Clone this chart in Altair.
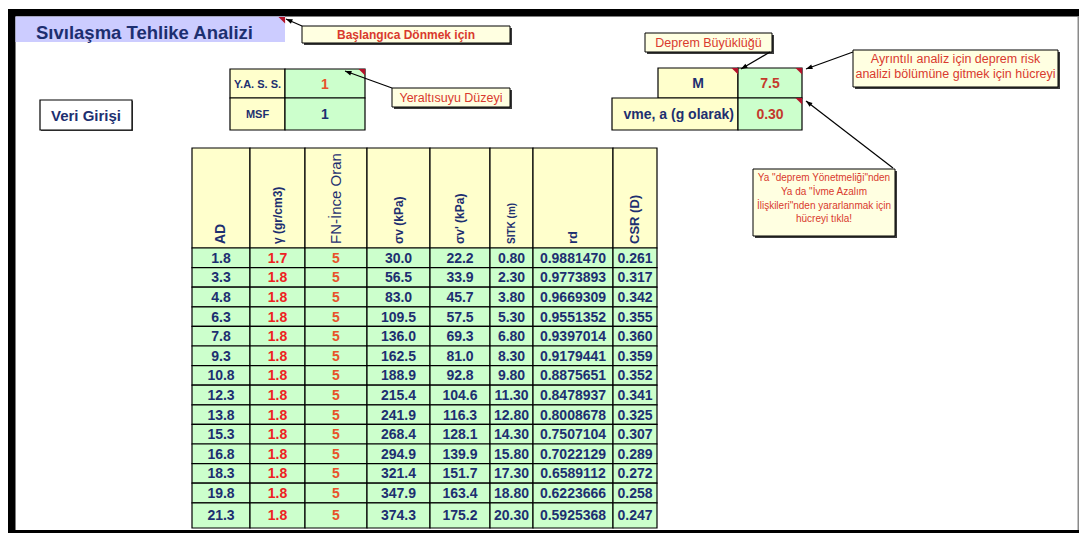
import math
import altair as alt
import pandas as pd

# ---------------- data ----------------
TITLE = "Sıvılaşma Tehlike Analizi"
ENTRY_LABEL = "Veri Girişi"
NOTE_HOME = ["Başlangıca Dönmek için"]
NOTE_WATER = ["Yeraltısuyu Düzeyi"]
NOTE_MAG = ["Deprem Büyüklüğü"]
NOTE_RISK = ["Ayrıntılı analiz için deprem risk", "analizi bölümüne gitmek için hücreyi"]
NOTE_ACC = ['Ya "deprem Yönetmeliği"nden', 'Ya da "İvme Azalım',
            'İlişkileri"nden yararlanmak için', 'hücreyi tıkla!']

PARAM_LABELS = ["Y.A. S. S.", "MSF"]
PARAM_VALUES = [1, 1]
QUAKE_LABELS = ["M", "vme, a (g olarak)"]
QUAKE_VALUES = [7.5, 0.30]

HEADERS = ["AD", "γ  (gr/cm3)", "FN-İnce Oran", "σv  (kPa)", "σv'  (kPa)", "SITK (m)", "rd", "CSR (D)"]
AD = [1.8, 3.3, 4.8, 6.3, 7.8, 9.3, 10.8, 12.3, 13.8, 15.3, 16.8, 18.3, 19.8, 21.3]
GAMMA = [1.7, 1.8, 1.8, 1.8, 1.8, 1.8, 1.8, 1.8, 1.8, 1.8, 1.8, 1.8, 1.8, 1.8]
FN = [5, 5, 5, 5, 5, 5, 5, 5, 5, 5, 5, 5, 5, 5]
SIGMA_V = [30.0, 56.5, 83.0, 109.5, 136.0, 162.5, 188.9, 215.4, 241.9, 268.4, 294.9, 321.4, 347.9, 374.3]
SIGMA_V_EFF = [22.2, 33.9, 45.7, 57.5, 69.3, 81.0, 92.8, 104.6, 116.3, 128.1, 139.9, 151.7, 163.4, 175.2]
SITK = [0.80, 2.30, 3.80, 5.30, 6.80, 8.30, 9.80, 11.30, 12.80, 14.30, 15.80, 17.30, 18.80, 20.30]
RD = [0.9881470, 0.9773893, 0.9669309, 0.9551352, 0.9397014, 0.9179441, 0.8875651,
      0.8478937, 0.8008678, 0.7507104, 0.7022129, 0.6589112, 0.6223666, 0.5925368]
CSR = [0.261, 0.317, 0.342, 0.355, 0.360, 0.359, 0.352, 0.341, 0.325, 0.307, 0.289, 0.272, 0.258, 0.247]

# ---------------- styling / layout ----------------
FONT = "Liberation Sans"
NAVY = "#1d2f70"
RED = "#ee2222"
ORANGE = "#e8522a"
BROWN = "#c43a2c"
NOTE_RED = "#d93a2e"
YELLOW = "#ffffcc"
GREEN = "#ccffcc"
LAVENDER = "#ccccff"
NOTE_FILL = "#ffffe1"

X0, X1, Y0, Y1 = 8, 1079, 8, 533
W, H = X1 - X0, Y1 - Y0
xs = alt.Scale(domain=[X0, X1], nice=False, zero=False)
ys = alt.Scale(domain=[Y1, Y0], nice=False, zero=False)

rects, texts, lines, heads, flags = [], [], [], [], []


def rect(x, x2, y, y2, fill, stroke="transparent", sw=0.0):
    rects.append(dict(x=x, x2=x2, y=y, y2=y2, fill=fill, stroke=stroke, sw=sw))


def text(x, y, s, color, size, weight="normal", align="center", angle=0, baseline="middle"):
    texts.append(dict(x=x, y=y, text=s, color=color, size=size, weight=weight,
                      align=align, angle=angle, baseline=baseline))


def note(x, x2, y, y2, lines_, size, y_first, step, weight="normal"):
    rect(x + 2, x2 + 2, y + 2, y2 + 2, "#3a3a3a")
    rect(x, x2, y, y2, NOTE_FILL, "#000000", 1.0)
    for i, s in enumerate(lines_):
        text((x + x2) / 2, y_first + i * step, s, NOTE_RED, size, weight)


def arrow(p0, p1):
    lines.append(dict(x=p0[0], y=p0[1], x2=p1[0], y2=p1[1]))
    dx, dy = p1[0] - p0[0], p1[1] - p0[1]
    n = math.hypot(dx, dy)
    ux, uy = dx / n, dy / n
    ang = math.degrees(math.atan2(dx, -dy)) % 360
    heads.append(dict(x=p1[0] - 3.2 * ux, y=p1[1] - 3.2 * uy, ang=ang))


def flag(cx, cy):
    flags.append(dict(x=cx - 3.2, y=cy + 3.2))


# frame
rect(8, 15.5, 9, 533, "#000000")
rect(8, 1079, 9, 16.5, "#000000")
rect(8, 1079, 530, 533, "#000000")
rect(1077.5, 1079, 16.5, 530, "#8a8a8a")

# title band
rect(15.5, 285, 16.5, 42, LAVENDER)
text(36, 39, TITLE, NAVY, 18.5, "bold", "left", baseline="alphabetic")
flag(285, 17)

# notes
note(302, 510, 26, 43, NOTE_HOME, 12, 34.5, 14, "bold")
note(392, 510, 88, 107, NOTE_WATER, 12.5, 97.5, 14)
note(645, 772, 33, 52, NOTE_MAG, 12.5, 42.5, 14)
note(853, 1058, 50, 87, NOTE_RISK, 12.5, 59, 15)
note(753, 895, 169, 236, NOTE_ACC, 10, 178, 13.8)

# Veri Girişi
rect(41, 133, 101, 131, "#555555")
rect(40, 132, 100, 130, "#ffffff", "#000000", 1.2)
text(86, 115.5, ENTRY_LABEL, NAVY, 15, "bold")

# Y.A.S.S / MSF
PX = [230, 285, 365]
PY = [69, 98, 130]
for i in range(2):
    rect(PX[0], PX[1], PY[i], PY[i + 1], YELLOW, "#000000", 1.2)
    rect(PX[1], PX[2], PY[i], PY[i + 1], GREEN, "#000000", 1.2)
    text((PX[0] + PX[1]) / 2, (PY[i] + PY[i + 1]) / 2 + 1, PARAM_LABELS[i], NAVY, 11, "bold")
    text((PX[1] + PX[2]) / 2, (PY[i] + PY[i + 1]) / 2 + 1, f"{PARAM_VALUES[i]:d}",
         ORANGE if i == 0 else NAVY, 14, "bold")
flag(365, 69)

# M / ivme
QY = [68, 98, 130]
QL = [658, 612]
QM, QR = 738, 802
for i in range(2):
    rect(QL[i], QM, QY[i], QY[i + 1], YELLOW, "#000000", 1.2)
    rect(QM, QR, QY[i], QY[i + 1], GREEN, "#000000", 1.2)
    yc = (QY[i] + QY[i + 1]) / 2 + 1
    if i == 0:
        text((QL[i] + QM) / 2, yc, QUAKE_LABELS[i], NAVY, 14, "bold")
        text((QM + QR) / 2, yc, f"{QUAKE_VALUES[i]:.1f}", BROWN, 14, "bold")
    else:
        text(QM - 4, yc, QUAKE_LABELS[i], NAVY, 14, "bold", "right")
        text((QM + QR) / 2, yc, f"{QUAKE_VALUES[i]:.2f}", BROWN, 14, "bold")
flag(738, 68)
flag(802, 68)
flag(802, 98)

# arrows
arrow((302, 26), (286, 19))
arrow((392, 88), (345, 71))
arrow((770, 52), (741, 69))
arrow((853, 52), (806, 69))
arrow((893, 168), (806, 101))

# main table
COL_X = [192, 250, 305, 367, 430, 490, 533, 613, 657]
HEAD_TOP, HEAD_BOT = 148, 248
ROW_H = 19.6
LAST_BOT = 528
columns = [
    [f"{v:.1f}" for v in AD],
    [f"{v:.1f}" for v in GAMMA],
    [f"{v:d}" for v in FN],
    [f"{v:.1f}" for v in SIGMA_V],
    [f"{v:.1f}" for v in SIGMA_V_EFF],
    [f"{v:.2f}" for v in SITK],
    [f"{v:.7f}" for v in RD],
    [f"{v:.3f}" for v in CSR],
]
col_colors = [NAVY, RED, ORANGE, NAVY, NAVY, NAVY, NAVY, NAVY]
head_sizes = [14, 12, 15, 12, 12, 10, 13, 13]
head_weights = ["bold", "bold", "normal", "bold", "bold", "bold", "bold", "bold"]
n = len(AD)
tops = [HEAD_BOT + i * ROW_H for i in range(n)]
bots = tops[1:] + [LAST_BOT]
for c in range(8):
    xa, xb = COL_X[c], COL_X[c + 1]
    xc = (xa + xb) / 2
    rect(xa, xb, HEAD_TOP, HEAD_BOT, YELLOW, "#000000", 1.2)
    text(xc, 244, HEADERS[c], NAVY, head_sizes[c], head_weights[c], "left", 270)
    for r in range(n):
        rect(xa, xb, tops[r], bots[r], GREEN, "#000000", 1.2)
        text(xc, (tops[r] + bots[r]) / 2 + 1, columns[c][r], col_colors[c], 14, "bold")

# ---------------- chart ----------------
def X(f):
    return alt.X(f, type="quantitative", scale=xs, axis=None)


def Y(f):
    return alt.Y(f, type="quantitative", scale=ys, axis=None)


layers = []
layers.append(
    alt.Chart(pd.DataFrame(rects)).mark_rect().encode(
        x=X("x"), x2="x2", y=Y("y"), y2="y2",
        fill=alt.Fill("fill:N", scale=None),
        stroke=alt.Stroke("stroke:N", scale=None),
        strokeWidth=alt.StrokeWidth("sw:Q", scale=None),
    )
)
layers.append(
    alt.Chart(pd.DataFrame(lines)).mark_rule(color="#000000", strokeWidth=1.2).encode(
        x=X("x"), y=Y("y"), x2="x2", y2="y2"
    )
)
layers.append(
    alt.Chart(pd.DataFrame(heads)).mark_point(
        shape="M 0 -1 L 0.75 1 L -0.75 1 Z", filled=True, color="#000000", opacity=1, size=42
    ).encode(x=X("x"), y=Y("y"), angle=alt.Angle("ang:Q", scale=None))
)
layers.append(
    alt.Chart(pd.DataFrame(flags)).mark_point(
        shape="M -1 -1 L 1 -1 L 1 1 Z", filled=True, color="#b3122a", opacity=1, size=44
    ).encode(x=X("x"), y=Y("y"))
)

tdf = pd.DataFrame(texts)
for (w, a, ang, bl), g in tdf.groupby(["weight", "align", "angle", "baseline"]):
    layers.append(
        alt.Chart(g.reset_index(drop=True)).mark_text(
            font=FONT, fontWeight=w, align=a, angle=float(ang), baseline=bl
        ).encode(
            x=X("x"), y=Y("y"), text="text:N",
            color=alt.Color("color:N", scale=None),
            size=alt.Size("size:Q", scale=None),
        )
    )

chart = (
    alt.layer(*layers)
    .properties(width=W, height=H, padding=0, autosize=alt.AutoSizeParams(type="none"),
                background="#ffffff")
    .configure_view(strokeWidth=0)
)

chart.save("out.html", embed_options={"renderer": "svg", "actions": False})
